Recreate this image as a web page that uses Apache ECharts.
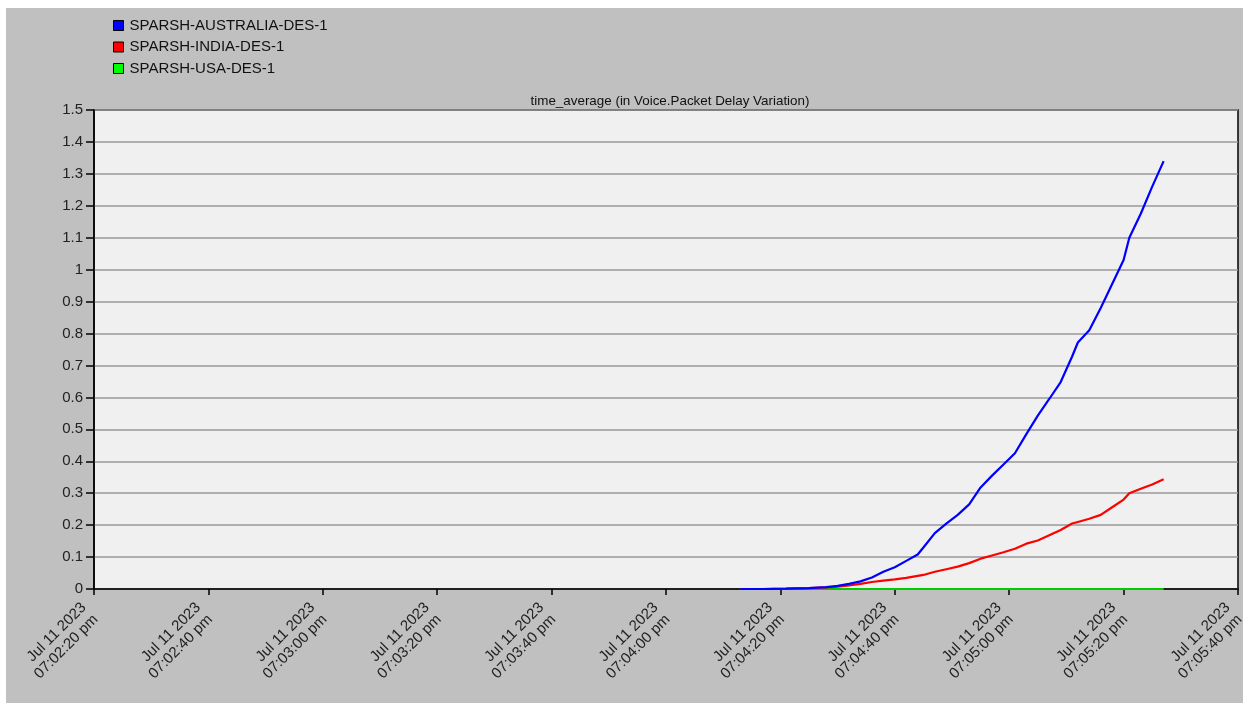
<!DOCTYPE html>
<html>
<head>
<meta charset="utf-8">
<title>time_average (in Voice.Packet Delay Variation)</title>
<script src="https://cdn.jsdelivr.net/npm/echarts@6/dist/echarts.min.js"></script>
<style>
  html, body { margin: 0; padding: 0; background: #ffffff; width: 1248px; height: 709px; overflow: hidden; }
  #chart { position: absolute; left: 6px; top: 8px; width: 1237px; height: 695px; background: #c0c0c0; }
</style>
</head>
<body>
<div id="chart"></div>
<script>
// Simulation time, seconds since midnight (07:04:13 pm .. 07:05:27 pm)
const times = [
  68653, 68657, 68661, 68665, 68668, 68670, 68672, 68674, 68676, 68678,
  68680, 68682, 68684, 68685, 68687, 68689, 68691, 68693, 68695, 68697,
  68699, 68701, 68703, 68705, 68707, 68709, 68711, 68712, 68714, 68716,
  68718, 68720, 68721, 68723, 68725, 68727
];

// Packet delay variation, time averaged (s)
const australia = [
  0, 0, 0.001, 0.003, 0.006, 0.010, 0.016, 0.024, 0.036, 0.054,
  0.068, 0.088, 0.108, 0.130, 0.175, 0.205, 0.232, 0.265, 0.318, 0.355,
  0.390, 0.425, 0.485, 0.543, 0.595, 0.648, 0.728, 0.772, 0.810, 0.880,
  0.955, 1.030, 1.100, 1.175, 1.260, 1.340
];
const india = [
  0, 0, 0.001, 0.003, 0.005, 0.007, 0.011, 0.016, 0.022, 0.026,
  0.030, 0.035, 0.041, 0.044, 0.054, 0.062, 0.070, 0.081, 0.095, 0.105,
  0.115, 0.126, 0.142, 0.152, 0.168, 0.185, 0.205, 0.210, 0.220, 0.232,
  0.256, 0.280, 0.300, 0.314, 0.327, 0.344
];
const usa = [
  0, 0, 0, 0, 0, 0, 0, 0, 0, 0,
  0, 0, 0, 0, 0, 0, 0, 0, 0, 0,
  0, 0, 0, 0, 0, 0, 0, 0, 0, 0,
  0, 0, 0, 0, 0, 0
];

const seriesNames = ['SPARSH-AUSTRALIA-DES-1', 'SPARSH-INDIA-DES-1', 'SPARSH-USA-DES-1'];
const chartTitle = 'time_average (in Voice.Packet Delay Variation)';
const dateLabel = 'Jul 11 2023';

// X axis: 07:02:20 pm .. 07:05:40 pm, one tick every 20 s
const xMin = 68540;
const xMax = 68740;
const xStep = 20;
const yMin = 0;
const yMax = 1.5;
const yStep = 0.1;

function pad2(n) { return (n < 10 ? '0' : '') + n; }
function clockLabel(sec) {
  const h24 = Math.floor(sec / 3600);
  const m = Math.floor((sec % 3600) / 60);
  const s = Math.round(sec % 60);
  const suffix = h24 >= 12 ? 'pm' : 'am';
  let h = h24 % 12;
  if (h === 0) h = 12;
  return dateLabel + '\n' + pad2(h) + ':' + pad2(m) + ':' + pad2(s) + ' ' + suffix;
}
function pairs(values) { return times.map((t, i) => [t, values[i]]); }

const chart = echarts.init(document.getElementById('chart'), null, { renderer: 'canvas' });
const font = 'Liberation Sans, Arial, sans-serif';

chart.setOption({
  animation: false,
  backgroundColor: '#c0c0c0',
  textStyle: { fontFamily: font, color: '#000' },
  title: {
    text: chartTitle,
    left: 665 - 6,
    top: 82,
    textAlign: 'center',
    textStyle: { fontFamily: font, fontSize: 13.4, fontWeight: 'normal', color: '#111' }
  },
  legend: {
    orient: 'vertical',
    left: 107,
    top: 10,
    padding: 0,
    itemWidth: 10,
    itemHeight: 10,
    itemGap: 6.5,
    icon: 'rect',
    data: seriesNames,
    textStyle: { fontFamily: font, fontSize: 15, color: '#111', padding: [0, 0, 0, 1] },
    itemStyle: { borderColor: '#000', borderWidth: 1 }
  },
  grid: {
    left: 88,
    top: 102,
    right: 5,
    bottom: 114,
    containLabel: false,
    outerBoundsMode: 'none',
    show: true,
    backgroundColor: '#f0f0f0',
    borderColor: '#000',
    borderWidth: 1.5
  },
  xAxis: {
    type: 'value',
    min: xMin,
    max: xMax,
    interval: xStep,
    axisLine: { show: true, lineStyle: { color: '#000', width: 1.5 } },
    axisTick: { show: true, length: 6, lineStyle: { color: '#000', width: 1.5 } },
    splitLine: { show: false },
    axisLabel: {
      rotate: 45,
      margin: 18,
      fontSize: 15,
      lineHeight: 17,
      color: '#222',
      fontFamily: font,
      padding: [0, 6, 0, 0],
      formatter: v => clockLabel(v)
    }
  },
  yAxis: {
    type: 'value',
    min: yMin,
    max: yMax,
    interval: yStep,
    axisLine: { show: true, lineStyle: { color: '#000', width: 1.5 } },
    axisTick: { show: true, length: 8, lineStyle: { color: '#000', width: 1.5 } },
    splitLine: { show: true, lineStyle: { color: '#9a9a9a', width: 1.5 } },
    axisLabel: {
      margin: 11,
      fontSize: 15,
      color: '#222',
      fontFamily: font,
      formatter: v => String(Math.round(v * 10) / 10)
    }
  },
  series: [
    {
      name: seriesNames[2],
      type: 'line',
      data: pairs(usa),
      showSymbol: false,
      z: 2,
      itemStyle: { color: '#00ff00' },
      lineStyle: { color: '#00cc00', width: 2.2 }
    },
    {
      name: seriesNames[1],
      type: 'line',
      data: pairs(india),
      showSymbol: false,
      z: 3,
      itemStyle: { color: '#ff0000' },
      lineStyle: { color: '#ff0000', width: 2.2 }
    },
    {
      name: seriesNames[0],
      type: 'line',
      data: pairs(australia),
      showSymbol: false,
      z: 4,
      itemStyle: { color: '#0000ff' },
      lineStyle: { color: '#0000ff', width: 2.2 }
    }
  ]
});
</script>
</body>
</html>
